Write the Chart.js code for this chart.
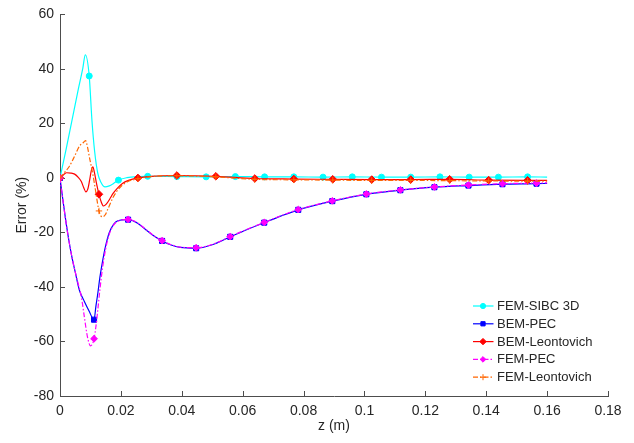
<!DOCTYPE html>
<html>
<head>
<meta charset="utf-8">
<script src="https://cdn.jsdelivr.net/npm/chart.js@4.4.1/dist/chart.umd.min.js"></script>
<style>
  html, body { margin: 0; padding: 0; background: #fff; }
  #wrap { width: 634px; height: 443px; }
</style>
</head>
<body>
<div id="wrap"><canvas id="errChart"></canvas></div>
<script>
// ---- axis ticks ----
const xTicks = [0, 0.02, 0.04, 0.06, 0.08, 0.1, 0.12, 0.14, 0.16, 0.18];
const xTickLabels = ["0", "0.02", "0.04", "0.06", "0.08", "0.1", "0.12", "0.14", "0.16", "0.18"];
const yTicks = [-80, -60, -40, -20, 0, 20, 40, 60];
const yTickLabels = ["-80", "-60", "-40", "-20", "0", "20", "40", "60"];

// ---- FEM-SIBC 3D ----
const zSibc = [0, 0.002, 0.004, 0.006, 0.0075, 0.0083, 0.0096, 0.0105, 0.0114, 0.0124, 0.0134, 0.0148,
  0.0162, 0.0176, 0.0192, 0.022, 0.0252, 0.0288, 0.0384, 0.048, 0.0576, 0.0672, 0.0768, 0.0864, 0.096,
  0.1056, 0.1152, 0.1248, 0.1344, 0.144, 0.1536, 0.16];
const errSibc = [0, 10.5, 21.5, 32.5, 40.3, 45.2, 37.4, 21, 9.5, 1.8, -1.5, -3.3,
  -2.9, -2.0, -0.8, 0.1, 0.5, 0.6, 0.5, 0.4, 0.5, 0.4, 0.4, 0.3, 0.4,
  0.3, 0.3, 0.4, 0.3, 0.3, 0.4, 0.3];
const markSibc = [0, 0.0096, 0.0192, 0.0288, 0.0384, 0.048, 0.0576, 0.0672, 0.0768, 0.0864, 0.096,
  0.1056, 0.1152, 0.1248, 0.1344, 0.144, 0.1536];

// ---- BEM-PEC ----
const zBemPec = [0, 0.001, 0.002, 0.003, 0.004, 0.005, 0.0064, 0.008, 0.0095, 0.01118, 0.0118, 0.0124,
  0.0131, 0.014, 0.015, 0.0162, 0.0176, 0.019, 0.02236, 0.0255, 0.028, 0.031, 0.03354, 0.0365, 0.0395,
  0.04472, 0.05, 0.0559, 0.0615, 0.06708, 0.0725, 0.07826, 0.08944, 0.10062, 0.1118, 0.12298, 0.13416,
  0.14534, 0.15652, 0.16];
const errBemPec = [0, -8.5, -16.5, -23.5, -29.5, -34.5, -41.3, -45.3, -48.7, -52.0, -47.0, -42.5,
  -36.5, -30.4, -24.8, -20.0, -17.0, -15.7, -15.3, -16.6, -18.8, -21.4, -23.1, -24.6, -25.5,
  -25.8, -24.5, -21.6, -18.9, -16.4, -14.0, -11.7, -8.5, -6.0, -4.5, -3.4, -2.8,
  -2.3, -2.1, -2.0];
const markPec = [0, 0.01118, 0.02236, 0.03354, 0.04472, 0.0559, 0.06708, 0.07826, 0.08944, 0.10062,
  0.1118, 0.12298, 0.13416, 0.14534, 0.15652];

// ---- BEM-Leontovich ----
const zBemLeon = [0, 0.0012, 0.0022, 0.0036, 0.0048, 0.006, 0.007, 0.0078, 0.0085, 0.0091, 0.0097,
  0.0103, 0.0108, 0.0113, 0.0119, 0.0128, 0.0136, 0.0143, 0.0152, 0.0163, 0.0175, 0.0188, 0.0205,
  0.0225, 0.0256, 0.03, 0.0384, 0.0512, 0.064, 0.0768, 0.0896, 0.1024, 0.1152, 0.128, 0.1408,
  0.1536, 0.16];
const errBemLeon = [0, 1.2, 1.9, 1.8, 1.4, 0.2, -1.3, -3.6, -5.1, -4.2, -1.0,
  2.8, 4.1, 2.0, -1.5, -6.0, -9.0, -10.3, -9.6, -7.8, -5.6, -3.8, -2.0,
  -0.9, 0, 0.6, 0.9, 0.6, -0.2, -0.4, -0.5, -0.6, -0.6, -0.5, -0.8,
  -0.9, -0.9];
const markLeon = [0, 0.0128, 0.0256, 0.0384, 0.0512, 0.064, 0.0768, 0.0896, 0.1024, 0.1152, 0.128,
  0.1408, 0.1536];

// ---- FEM-PEC ----
const zFemPec = [0, 0.001, 0.002, 0.003, 0.004, 0.005, 0.006, 0.007, 0.008, 0.0088, 0.0095, 0.01,
  0.0106, 0.01118, 0.0118, 0.0124, 0.0131, 0.014, 0.015, 0.0162, 0.0176, 0.019, 0.02236, 0.0255,
  0.028, 0.031, 0.03354, 0.0365, 0.0395, 0.04472, 0.05, 0.0559, 0.0615, 0.06708, 0.0725, 0.07826,
  0.08944, 0.10062, 0.1118, 0.12298, 0.13416, 0.14534, 0.15652, 0.16];
const errFemPec = [0, -8.5, -16.5, -23.5, -29.5, -34.5, -39.0, -43.5, -51.0, -57.0, -60.5, -61.6,
  -61.0, -59.0, -54.5, -48.6, -41.0, -32.8, -26.0, -20.6, -17.3, -15.9, -15.2, -16.5,
  -18.7, -21.3, -23.0, -24.5, -25.4, -25.6, -24.4, -21.5, -18.8, -16.3, -13.9, -11.6,
  -8.4, -5.9, -4.4, -3.3, -2.6, -2.1, -1.9, -1.8];

// ---- FEM-Leontovich ----
const zFemLeon = [0, 0.0015, 0.0031, 0.0048, 0.0064, 0.0075, 0.0084, 0.009, 0.0097, 0.0108, 0.0117,
  0.0128, 0.0139, 0.0148, 0.0157, 0.0174, 0.0196, 0.022, 0.0256, 0.03, 0.0384, 0.0512, 0.064,
  0.0768, 0.0896, 0.1024, 0.1152, 0.128, 0.1408, 0.1536, 0.16];
const errFemLeon = [0, 2.0, 4.3, 8.0, 11.7, 12.8, 13.7, 11.5, 7.4, 1.3, -4.8,
  -12.1, -14.3, -13.6, -11.5, -7.2, -3.6, -1.5, -0.3, 0.5, 0.8, 0.4, -0.5,
  -0.7, -0.8, -0.9, -0.9, -1.0, -1.1, -1.2, -1.2];

const axisColor = "#4d4d4d";
const textColor = "#262626";
const fontFamily = "'Liberation Sans', Arial, Helvetica, sans-serif";

// 组合 {x, y}
function toPoints(zs, vals) {
  return zs.map((z, i) => ({ x: z, y: vals[i] }));
}

// series styles, in plotting order (first one ends up at the bottom)
const seriesDefs = [
  { label: "FEM-SIBC 3D", z: zSibc, v: errSibc, marks: markSibc, color: "#00FFFF", style: "circle", r: 3, lr: 2.6, dash: [] },
  { label: "BEM-PEC", z: zBemPec, v: errBemPec, marks: markPec, color: "#0000FF", style: "rect", r: 3.6, lr: 3, dash: [] },
  { label: "BEM-Leontovich", z: zBemLeon, v: errBemLeon, marks: markLeon, color: "#FF0000", style: "rectRot", r: 3.8, lr: 3.2, dash: [] },
  { label: "FEM-PEC", z: zFemPec, v: errFemPec, marks: markPec, color: "#FF00FF", style: "rectRot", r: 3.4, lr: 2.8, dash: [5, 2, 1.5, 2] },
  { label: "FEM-Leontovich", z: zFemLeon, v: errFemLeon, marks: markLeon, color: "#FF6600", style: "cross", r: 3.2, lr: 3, dash: [5, 2, 1.5, 2] },
];

const datasets = seriesDefs.map((s, i) => ({
  label: s.label,
  data: toPoints(s.z, s.v),
  borderColor: s.color,
  backgroundColor: s.color,
  borderWidth: 1.2,
  borderDash: s.dash,
  cubicInterpolationMode: "monotone",
  pointStyle: s.style,
  pointRadius: (ctx) => (ctx.raw && s.marks.includes(ctx.raw.x) ? s.r : 0),
  pointBorderWidth: 1,
  pointBorderColor: s.color,
  pointBackgroundColor: s.color,
  pointHoverRadius: 0,
  order: seriesDefs.length - i,
}));

// MATLAB style ticks pointing into the plot
const inwardTicks = {
  id: "inwardTicks",
  beforeDatasetsDraw(chart) {
    const { ctx, chartArea: a, scales } = chart;
    ctx.save();
    ctx.strokeStyle = axisColor;
    ctx.lineWidth = 1;
    ctx.beginPath();
    xTicks.forEach((v) => {
      const p = Math.round(scales.x.getPixelForValue(v)) + 0.5;
      ctx.moveTo(p, a.bottom);
      ctx.lineTo(p, a.bottom - 5);
    });
    yTicks.forEach((v) => {
      const p = Math.round(scales.y.getPixelForValue(v)) + 0.5;
      ctx.moveTo(a.left, p);
      ctx.lineTo(a.left + 5, p);
    });
    ctx.stroke();
    ctx.restore();
  },
};

function drawMarker(ctx, style, x, y, r) {
  ctx.beginPath();
  if (style === "circle") {
    ctx.arc(x, y, r, 0, Math.PI * 2);
    ctx.fill();
  } else if (style === "rect") {
    const h = r * Math.SQRT1_2;
    ctx.rect(x - h, y - h, 2 * h, 2 * h);
    ctx.fill();
  } else if (style === "rectRot") {
    ctx.moveTo(x - r, y);
    ctx.lineTo(x, y - r);
    ctx.lineTo(x + r, y);
    ctx.lineTo(x, y + r);
    ctx.closePath();
    ctx.fill();
  } else {
    ctx.moveTo(x - r, y);
    ctx.lineTo(x + r, y);
    ctx.moveTo(x, y - r);
    ctx.lineTo(x, y + r);
  }
  ctx.stroke();
}

// legend in the lower right corner of the axes
const cornerLegend = {
  id: "cornerLegend",
  afterDraw(chart) {
    const { ctx } = chart;
    ctx.save();
    ctx.font = "13px " + fontFamily;
    ctx.textBaseline = "middle";
    seriesDefs.forEach((s, i) => {
      const y = 306 + i * 17.8;
      ctx.strokeStyle = s.color;
      ctx.fillStyle = s.color;
      ctx.lineWidth = 1.2;
      ctx.setLineDash(s.dash);
      ctx.beginPath();
      ctx.moveTo(473, y);
      ctx.lineTo(493.5, y);
      ctx.stroke();
      ctx.setLineDash([]);
      ctx.lineWidth = 1;
      drawMarker(ctx, s.style, 483, y, s.lr);
      ctx.fillStyle = textColor;
      ctx.fillText(s.label, 497, y + 0.5);
    });
    ctx.restore();
  },
};

new Chart(document.getElementById("errChart"), {
  type: "line",
  data: { datasets },
  options: {
    responsive: true,
    maintainAspectRatio: false,
    animation: false,
    devicePixelRatio: 1,
    events: [],
    layout: { padding: { top: 13, right: 26, left: 0, bottom: 0 } },
    scales: {
      x: {
        type: "linear",
        min: 0,
        max: 0.18,
        afterFit: (s) => { s.height = 47; },
        afterBuildTicks: (s) => { s.ticks = xTicks.map((v) => ({ value: v })); },
        grid: { display: true, drawOnChartArea: false, drawTicks: false },
        border: { display: true, color: axisColor, width: 1 },
        ticks: {
          padding: 7,
          color: textColor,
          maxRotation: 0,
          autoSkip: false,
          font: { family: fontFamily, size: 14 },
          callback: (v, i) => xTickLabels[i],
        },
        title: {
          display: true,
          text: "z (m)",
          color: textColor,
          font: { family: fontFamily, size: 14 },
          padding: { top: 0, bottom: 8 },
        },
      },
      y: {
        type: "linear",
        min: -80,
        max: 60,
        afterFit: (s) => { s.width = 60; },
        afterBuildTicks: (s) => { s.ticks = yTicks.map((v) => ({ value: v })); },
        grid: { display: true, drawOnChartArea: false, drawTicks: false },
        border: { display: true, color: axisColor, width: 1 },
        ticks: {
          padding: 6,
          color: textColor,
          autoSkip: false,
          font: { family: fontFamily, size: 14 },
          callback: (v, i) => yTickLabels[i],
        },
        title: {
          display: true,
          text: "Error (%)",
          color: textColor,
          font: { family: fontFamily, size: 14 },
          padding: { top: 14, bottom: 0 },
        },
      },
    },
    plugins: {
      legend: { display: false },
      tooltip: { enabled: false },
    },
  },
  plugins: [inwardTicks, cornerLegend],
});
</script>
</body>
</html>
